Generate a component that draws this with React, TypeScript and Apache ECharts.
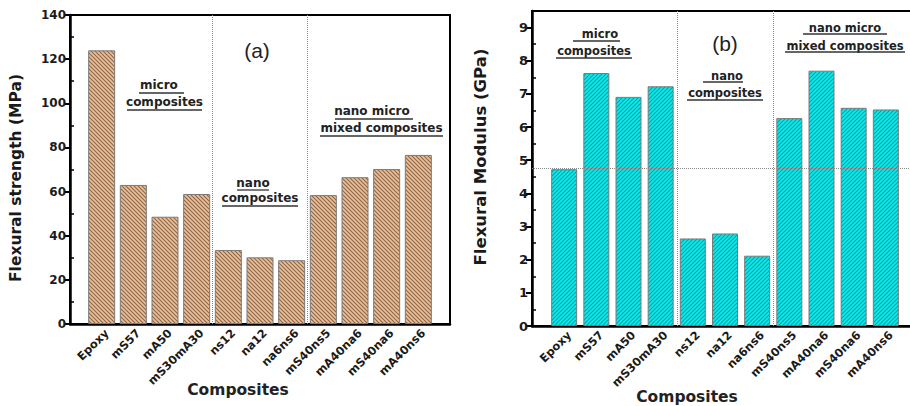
import React, { useEffect, useRef } from 'react';
import * as echarts from 'echarts';

const categories = ['Epoxy', 'mS57', 'mA50', 'mS30mA30', 'ns12', 'na12', 'na6ns6', 'mS40ns5', 'mA40na6', 'mS40na6', 'mA40ns6'];
const strengthValues = [124, 63, 48.6, 58.9, 33.5, 30.2, 28.9, 58.4, 66.5, 70.2, 76.6];
const modulusValues = [4.73, 7.63, 6.91, 7.23, 2.64, 2.79, 2.12, 6.27, 7.7, 6.58, 6.53];
const strengthTicks = [0, 20, 40, 60, 80, 100, 120, 140];
const strengthMinorTicks = [10, 30, 50, 70, 90, 110, 130];
const modulusTicks = [0, 1, 2, 3, 4, 5, 6, 7, 8, 9];
const modulusMinorTicks = [0.5, 1.5, 2.5, 3.5, 4.5, 5.5, 6.5, 7.5, 8.5];
const groupSeparators = [4.5, 7.5];
const modulusReference = 4.77;

const BOLD = 'DejaVu Sans';

function hatch(bg: string, line: string, dir: 'back' | 'fwd') {
  const s = 4;
  const c = document.createElement('canvas');
  c.width = s;
  c.height = s;
  const ctx = c.getContext('2d')!;
  ctx.fillStyle = bg;
  ctx.fillRect(0, 0, s, s);
  ctx.strokeStyle = line;
  ctx.lineWidth = 1.1;
  ctx.beginPath();
  if (dir === 'back') {
    ctx.moveTo(-1, -1); ctx.lineTo(s + 1, s + 1);
    ctx.moveTo(-1, s - 1); ctx.lineTo(1, s + 1);
    ctx.moveTo(s - 1, -1); ctx.lineTo(s + 1, 1);
  } else {
    ctx.moveTo(-1, s + 1); ctx.lineTo(s + 1, -1);
    ctx.moveTo(-1, 1); ctx.lineTo(1, -1);
    ctx.moveTo(s - 1, s + 1); ctx.lineTo(s + 1, s - 1);
  }
  ctx.stroke();
  return c;
}

function note(text: string, cx: number, cy: number, font: string, ul?: [number, number, number]) {
  const els: any[] = [
    {
      type: 'text',
      x: cx,
      y: cy,
      silent: true,
      style: { text, font, fill: '#222', align: 'center', verticalAlign: 'middle', textAlign: 'center', textVerticalAlign: 'middle' },
    },
  ];
  if (ul) {
    els.push({
      type: 'line',
      silent: true,
      shape: { x1: ul[0], y1: ul[2], x2: ul[1], y2: ul[2] },
      style: { stroke: '#333', lineWidth: 1.3 },
    });
  }
  return els;
}

function App() {
  const ref = useRef<HTMLDivElement>(null);
  useEffect(() => {
    if (!ref.current) return;
    const chart = echarts.init(ref.current, null, { renderer: 'svg' });

    const grids = [
      { left: 70, top: 15, width: 380, height: 309 },
      { left: 532, top: 11, width: 386, height: 315 },
    ];

    const mkX = (gi: number, show: boolean) => ({
      type: 'value',
      gridIndex: gi,
      min: 0,
      max: 12,
      interval: 1,
      show,
      splitLine: { show: false },
      axisTick: { show: false },
      axisLine: { show: true, onZero: false, lineStyle: { color: '#000', width: 2.5 } },
      axisLabel: {
        show: true,
        rotate: 45,
        interval: 0,
        margin: 12,
        padding: [0, -7, 0, 0],
        formatter: (v: number) => categories[Math.round(v) - 1] ?? '',
        fontFamily: BOLD,
        fontWeight: 'bold',
        fontSize: 11.5,
        color: '#1a1a1a',
      },
    });

    const mkY = (gi: number, max: number, ticks: number[], fs: number) => ({
      type: 'value',
      gridIndex: gi,
      min: 0,
      max,
      interval: ticks[1] - ticks[0],
      splitLine: { show: false },
      axisLine: { show: true, onZero: false, lineStyle: { color: '#000', width: 2.5 } },
      axisTick: { show: true, length: 6, customValues: ticks, lineStyle: { color: '#000', width: 2 } },
      axisLabel: {
        show: true,
        customValues: ticks,
        margin: 4,
        fontFamily: BOLD,
        fontWeight: 'bold',
        fontSize: fs,
        color: '#1a1a1a',
      },
    });

    const mkMinorY = (gi: number, max: number, ticks: number[]) => ({
      type: 'value',
      gridIndex: gi,
      min: 0,
      max,
      splitLine: { show: false },
      axisLine: { show: false },
      axisLabel: { show: false },
      axisTick: { show: true, inside: true, length: 4, customValues: ticks, lineStyle: { color: '#000', width: 1.5 } },
    });

    const sepLine = {
      silent: true,
      symbol: 'none',
      label: { show: false },
      lineStyle: { type: 'dotted', color: '#8a8a8a', width: 1 },
    };

    const graphic: any[] = [
      {
        type: 'text', x: 16, y: 178, rotation: Math.PI / 2, silent: true,
        style: { text: 'Flexural strength (MPa)', font: `bold 15.5px "${BOLD}"`, fill: '#1a1a1a', align: 'center', verticalAlign: 'middle', textAlign: 'center', textVerticalAlign: 'middle' },
      },
      {
        type: 'text', x: 480, y: 157, rotation: Math.PI / 2, silent: true,
        style: { text: 'Flexural Modulus (GPa)', font: `bold 16.5px "${BOLD}"`, fill: '#1a1a1a', align: 'center', verticalAlign: 'middle', textAlign: 'center', textVerticalAlign: 'middle' },
      },
      ...note('Composites', 238, 390, `bold 15.5px "${BOLD}"`),
      ...note('Composites', 687, 397, `bold 15.5px "${BOLD}"`),
      ...note('(a)', 257, 50, '21px "Liberation Sans"'),
      ...note('micro ', 161, 85, `bold 12px "${BOLD}"`, [139, 184, 93]),
      ...note('composites', 164.5, 102, `bold 12px "${BOLD}"`, [127, 202, 110]),
      ...note('nano', 253, 183, `bold 12px "${BOLD}"`, [237, 269, 190]),
      ...note('composites', 260, 198, `bold 12px "${BOLD}"`, [222, 298, 206]),
      ...note('nano micro ', 374, 111, `bold 12px "${BOLD}"`, [335, 413, 119]),
      ...note('mixed composites', 381.5, 128, `bold 12px "${BOLD}"`, [320, 443, 136]),
      ...note('(b)', 725, 43, '21px "Liberation Sans"'),
      ...note('micro', 600, 34, `bold 11.5px "${BOLD}"`, [573, 620, 41]),
      ...note('composites', 594, 51, `bold 11.5px "${BOLD}"`, [556, 632, 58]),
      ...note('nano', 727, 76, `bold 11.5px "${BOLD}"`, [703, 743, 82]),
      ...note('composites', 725, 93, `bold 11.5px "${BOLD}"`, [687, 763, 100]),
      ...note('nano micro', 845, 28, `bold 11.5px "${BOLD}"`, [803, 887, 34]),
      ...note('mixed composites', 845, 46, `bold 11.5px "${BOLD}"`, [785, 905, 52]),
    ];

    chart.setOption({
      animation: false,
      backgroundColor: '#ffffff',
      grid: [
        { ...grids[0], show: true, borderColor: '#000', borderWidth: 2, backgroundColor: 'transparent', outerBoundsMode: 'none', containLabel: false },
        { ...grids[1], show: true, borderColor: '#000', borderWidth: 2, backgroundColor: 'transparent', outerBoundsMode: 'none', containLabel: false },
        { ...grids[0], show: false, outerBoundsMode: 'none', containLabel: false },
        { ...grids[1], show: false, outerBoundsMode: 'none', containLabel: false },
      ],
      xAxis: [mkX(0, true), mkX(1, true), mkX(2, false), mkX(3, false)],
      yAxis: [
        mkY(0, 140, strengthTicks, 12),
        mkY(1, 9.5, modulusTicks, 13),
        mkMinorY(2, 140, strengthMinorTicks),
        mkMinorY(3, 9.5, modulusMinorTicks),
      ],
      series: [
        {
          type: 'line',
          xAxisIndex: 0,
          yAxisIndex: 0,
          data: [],
          z: 1,
          silent: true,
          markLine: { ...sepLine, data: groupSeparators.map((x) => ({ xAxis: x })) },
        },
        {
          type: 'line',
          xAxisIndex: 1,
          yAxisIndex: 1,
          data: [],
          z: 1,
          silent: true,
          markLine: {
            ...sepLine,
            data: [...groupSeparators.map((x) => ({ xAxis: x })), { yAxis: modulusReference }],
          },
        },
        {
          type: 'bar',
          xAxisIndex: 0,
          yAxisIndex: 0,
          barWidth: 27,
          z: 3,
          silent: true,
          data: strengthValues.map((v, i) => [i + 1, v]),
          itemStyle: {
            color: { image: hatch('#e2c29f', '#946443', 'back'), repeat: 'repeat' },
            borderColor: '#7a7a7a',
            borderWidth: 1,
          },
        },
        {
          type: 'bar',
          xAxisIndex: 1,
          yAxisIndex: 1,
          barWidth: 26,
          z: 3,
          silent: true,
          data: modulusValues.map((v, i) => [i + 1, v]),
          itemStyle: {
            color: { image: hatch('#10eaea', '#0a9fa8', 'fwd'), repeat: 'repeat' },
            borderColor: '#7a7a7a',
            borderWidth: 1,
          },
        },
      ],
      graphic,
    });

    return () => chart.dispose();
  }, []);

  return <div ref={ref} style={{ position: 'fixed', left: 0, top: 0, width: 910, height: 406, background: '#fff' }} />;
}

export default App;
